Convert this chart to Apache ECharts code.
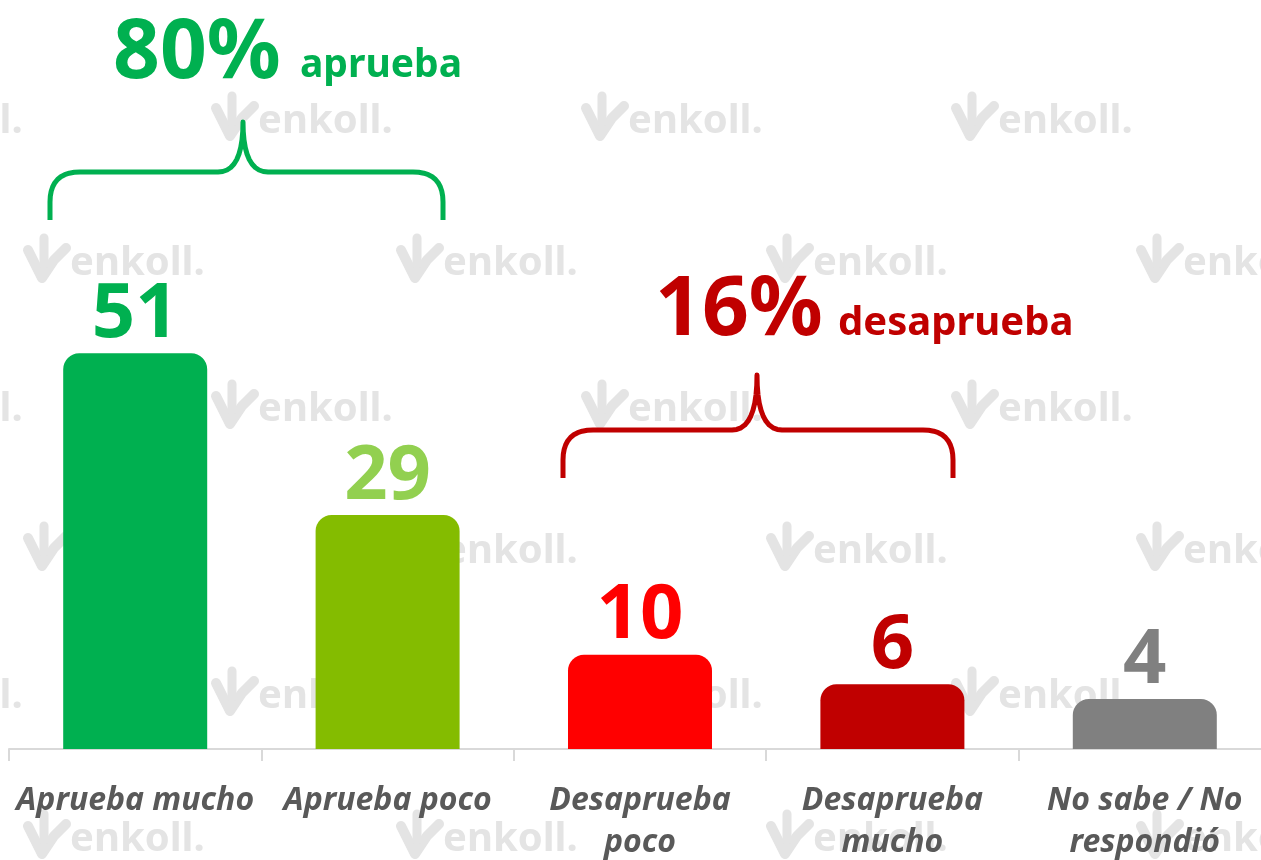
<!DOCTYPE html>
<html lang="es">
<head>
    <meta charset="UTF-8">
    <title>Aprobación</title>
    <script src="https://cdn.jsdelivr.net/npm/echarts@6/dist/echarts.min.js"></script>
    <style>
        html, body { margin: 0; padding: 0; background: #fff; }
        #main { width: 1261px; height: 860px; }
    </style>
</head>
<body>
    <div id="main"></div>
    <script type="text/javascript">
        // datos
        const categories = ['Aprueba mucho', 'Aprueba poco', 'Desaprueba\npoco', 'Desaprueba\nmucho', 'No sabe / No\nrespondió'];
        const values = [51, 29, 10, 6, 4];
        const barColors = ['#00B050', '#84BC00', '#FF0000', '#C00000', '#808080'];
        const labelColors = ['#00B050', '#92D050', '#FF0000', '#C00000', '#808080'];

        const font = '"Noto Sans", "Open Sans", sans-serif';
        const green = '#00B050';
        const red = '#C00000';
        const yMin = -2.8;

        // marca de agua enkoll.
        function watermark(x, y) {
            const c = '#e4e4e4';
            return [{
                type: 'polyline', z: 0, silent: true,
                shape: { points: [[x + 6, y - 12], [x + 20, y + 16], [x + 32, y - 2], [x + 44, y - 14]] },
                style: { stroke: c, lineWidth: 10, fill: null, lineJoin: 'round', lineCap: 'round' }
            }, {
                type: 'polyline', z: 0, silent: true,
                shape: { points: [[x + 22, y - 24], [x + 22, y + 2]] },
                style: { stroke: c, lineWidth: 9, fill: null, lineCap: 'round' }
            }, {
                type: 'text', z: 0, silent: true, x: x + 48, y: y + 2,
                style: { text: 'enkoll.', fill: c, font: 'bold 40px ' + font, verticalAlign: 'middle' }
            }];
        }
        const marks = [];
        const rowsY = [120, 262, 408, 550, 695, 838];
        rowsY.forEach(function (y, i) {
            const xs = i % 2 === 0 ? [-160, 210, 580, 950] : [22, 395, 765, 1135];
            xs.forEach(function (x) { marks.push.apply(marks, watermark(x, y)); });
        });

        // curva cuadrática muestreada
        function quad(p0, p1, p2) {
            const pts = [];
            for (let t = 0; t <= 1.0001; t += 0.1) {
                const a = (1 - t) * (1 - t), b = 2 * (1 - t) * t, c = t * t;
                pts.push([a * p0[0] + b * p1[0] + c * p2[0], a * p0[1] + b * p1[1] + c * p2[1]]);
            }
            return pts;
        }

        // llave { horizontal
        function brace(x1, x2, xm, yEnd, yBar, yTip, color) {
            const r = 30, s = 25;
            let pts = [[x1, yEnd]];
            pts = pts.concat(quad([x1, yBar + r], [x1, yBar], [x1 + r, yBar]));
            pts = pts.concat(quad([xm - s, yBar], [xm, yBar], [xm, yTip]));
            pts = pts.concat(quad([xm, yTip], [xm, yBar], [xm + s, yBar]));
            pts = pts.concat(quad([x2 - r, yBar], [x2, yBar], [x2, yBar + r]));
            pts.push([x2, yEnd]);
            return {
                type: 'polyline', z: 5, silent: true,
                shape: { points: pts },
                style: { stroke: color, lineWidth: 5, fill: null, lineJoin: 'round' }
            };
        }

        // barra redondeada desde la base del eje
        function renderBar(params, api) {
            const i = api.value(0);
            const v = api.value(1);
            const top = api.coord([i, v]);
            const base = api.coord([i, yMin]);
            const w = 144;
            return {
                type: 'rect',
                shape: { x: top[0] - w / 2, y: top[1], width: w, height: base[1] - top[1], r: [16, 16, 0, 0] },
                style: { fill: barColors[i] },
                textContent: {
                    style: { text: String(v), fill: labelColors[i], font: 'bold 76px ' + font }
                },
                textConfig: { position: 'top', distance: 0 }
            };
        }

        const myChart = echarts.init(document.getElementById('main'));
        const option = {
            animation: false,
            backgroundColor: '#fff',
            grid: { left: 9, width: 1262, bottom: 111, top: 287, outerBoundsMode: 'none' },
            xAxis: {
                type: 'category',
                data: categories,
                axisLine: { onZero: false, lineStyle: { color: '#d9d9d9', width: 2 } },
                axisTick: { show: true, length: 12, lineStyle: { color: '#d9d9d9', width: 2 } },
                axisLabel: {
                    interval: 0,
                    margin: 31,
                    color: '#595959',
                    fontFamily: font,
                    fontSize: 32,
                    fontWeight: 'bold',
                    fontStyle: 'italic',
                    lineHeight: 42
                }
            },
            yAxis: {
                type: 'value',
                show: false,
                min: yMin,
                max: 60
            },
            series: [{
                type: 'custom',
                z: 2,
                renderItem: renderBar,
                encode: { x: 0, y: 1 },
                data: values.map(function (v, i) { return [i, v]; })
            }],
            graphic: marks.concat([
                brace(50, 443, 243, 220, 172, 122, green),
                brace(563, 953, 757, 478, 430, 375, red),
                {
                    type: 'text', z: 6, x: 113, y: 14,
                    style: { text: '80%', fill: green, font: 'bold 82px ' + font }
                },
                {
                    type: 'text', z: 6, x: 300, y: 46,
                    style: { text: 'aprueba', fill: green, font: 'bold 39px ' + font }
                },
                {
                    type: 'text', z: 6, x: 655, y: 271,
                    style: { text: '16%', fill: red, font: 'bold 82px ' + font }
                },
                {
                    type: 'text', z: 6, x: 838, y: 304,
                    style: { text: 'desaprueba', fill: red, font: 'bold 40px ' + font }
                }
            ])
        };
        myChart.setOption(option);
    </script>
</body>
</html>
